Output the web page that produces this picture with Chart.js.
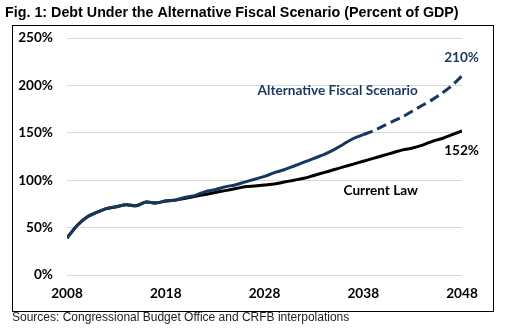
<!DOCTYPE html>
<html>
<head>
<meta charset="utf-8">
<script src="https://cdn.jsdelivr.net/npm/chart.js@4.4.1/dist/chart.umd.min.js"></script>
<style>
  html, body { margin: 0; padding: 0; background: #fff; }
  #wrap { width: 511px; height: 329px; }
</style>
</head>
<body>
<div id="wrap"><canvas id="debtChart" width="511" height="329"></canvas></div>
<script>
// Debt held by the public, percent of GDP, 2008-2048
const years = [];
for (let y = 2008; y <= 2048; y++) years.push(y);

const altScenario = [
  39, 52, 61, 66, 70, 72, 74, 73, 77, 76,
  78, 79, 82, 84, 88, 90, 93, 95, 98, 101,
  104, 108, 111, 115, 119, 123, 127, 132, 138, 144,
  148, 152, 157, 162, 167, 173, 179, 185, 192, 200,
  210
];

const currentLaw = [
  39, 52, 61, 66, 70, 72, 74, 73, 77, 76,
  78, 79, 81, 83, 85, 87, 89, 91, 93, 94,
  95, 96, 98, 100, 102, 105, 108, 111, 114, 117,
  120, 123, 126, 129, 132, 134, 137, 141, 144, 148,
  152
];

const yTicks = [0, 50, 100, 150, 200, 250];
const xTicks = [2008, 2018, 2028, 2038, 2048];
const dashFromYear = 2038;

const navy = '#17375e';
const labelFont = 'bold 13.6px Lato, "Open Sans", sans-serif';

// title, outer frame, source line and the in-chart labels
const decorations = {
  id: 'decorations',
  afterDraw(chart) {
    const ctx = chart.ctx;
    const xs = chart.scales.x, ys = chart.scales.y;
    ctx.save();

    ctx.fillStyle = '#000';
    ctx.font = 'bold 14.3px "Liberation Sans", Arial, sans-serif';
    ctx.textBaseline = 'alphabetic';
    ctx.textAlign = 'left';
    ctx.fillText('Fig. 1: Debt Under the Alternative Fiscal Scenario (Percent of GDP)', 5, 17);

    ctx.strokeStyle = '#000';
    ctx.lineWidth = 1;
    ctx.strokeRect(12.5, 25.5, 481, 286);

    ctx.fillStyle = '#222';
    ctx.font = '12px "Liberation Sans", Arial, sans-serif';
    ctx.textBaseline = 'middle';
    ctx.fillText('Sources: Congressional Budget Office and CRFB interpolations', 12, 318);

    const last = years.length - 1;
    const xEnd = xs.getPixelForValue(years[last]);

    ctx.font = labelFont;
    ctx.fillStyle = navy;
    ctx.textAlign = 'right';
    ctx.fillText(altScenario[last] + '%', xEnd + 17, ys.getPixelForValue(altScenario[last]) - 18);
    ctx.textAlign = 'left';
    ctx.fillText('Alternative Fiscal Scenario', xs.getPixelForValue(2027.3), ys.getPixelForValue(195));

    ctx.fillStyle = '#000';
    ctx.textAlign = 'right';
    ctx.fillText(currentLaw[last] + '%', xEnd + 17, ys.getPixelForValue(currentLaw[last]) + 20);
    ctx.textAlign = 'left';
    ctx.fillText('Current Law', xs.getPixelForValue(2036), ys.getPixelForValue(89));

    ctx.restore();
  }
};

const tickFont = { family: 'Lato, "Open Sans", sans-serif', size: 13.6, weight: 'bold' };

new Chart(document.getElementById('debtChart'), {
  type: 'line',
  data: {
    datasets: [
      {
        label: 'Alternative Fiscal Scenario',
        data: years.map((yr, i) => ({ x: yr, y: altScenario[i] })),
        borderColor: navy,
        borderWidth: 3,
        pointRadius: 0,
        tension: 0.3,
        segment: {
          borderDash: c => c.p0.parsed.x >= dashFromYear ? [10, 5] : undefined
        }
      },
      {
        label: 'Current Law',
        data: years.map((yr, i) => ({ x: yr, y: currentLaw[i] })),
        borderColor: '#000',
        borderWidth: 3,
        pointRadius: 0,
        tension: 0.3
      }
    ]
  },
  options: {
    responsive: false,
    animation: false,
    devicePixelRatio: 1,
    layout: { padding: { left: 12, right: 49, top: 38, bottom: 18 } },
    plugins: {
      legend: { display: false },
      tooltip: { enabled: false }
    },
    scales: {
      x: {
        type: 'linear',
        min: xTicks[0],
        max: xTicks[xTicks.length - 1],
        afterBuildTicks: s => { s.ticks = xTicks.map(v => ({ value: v })); },
        afterFit: s => { s.height = 36; },
        grid: { display: false, drawTicks: false },
        border: { display: false },
        ticks: {
          padding: 10,
          color: '#000',
          font: tickFont,
          callback: v => String(v)
        }
      },
      y: {
        min: yTicks[0],
        max: yTicks[yTicks.length - 1],
        afterBuildTicks: s => { s.ticks = yTicks.map(v => ({ value: v })); },
        afterFit: s => { s.width = 55; },
        grid: { color: '#d9d9d9', lineWidth: 1, drawTicks: false },
        border: { display: false },
        ticks: {
          padding: 14,
          color: '#000',
          font: tickFont,
          callback: v => v + '%'
        }
      }
    }
  },
  plugins: [decorations]
});
</script>
</body>
</html>
